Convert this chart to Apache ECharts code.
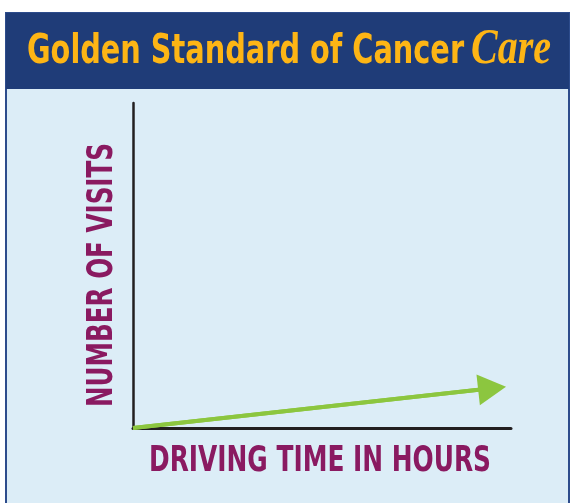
<!DOCTYPE html>
<html>
<head>
    <meta charset="utf-8">
    <script src="https://cdn.jsdelivr.net/npm/echarts@6/dist/echarts.min.js"></script>
    <style type="text/css">
        html, body { width: 100%; height: 100%; margin: 0; background: #fff; }
        #chart { width: 571px; height: 503px; }
    </style>
</head>
<body>
<div id="chart"></div>
<script type="text/javascript">
    // 数据：驾车时间（小时） vs 就诊次数（示意）
    var driveHours = [0, 0.95];
    var visits = [0, 0.122];
    var titleMain = 'Golden Standard of Cancer';
    var titleScript = 'Care';
    var xName = 'DRIVING TIME IN HOURS';
    var yName = 'NUMBER OF VISITS';

    var pts = driveHours.map(function (h, i) { return [h, visits[i]]; });
    // 没有窄体字体，用 DejaVu Sans Condensed 再横向压缩
    var narrow = '"DejaVu Sans Condensed", "DejaVu Sans", sans-serif';
    var purple = '#8a1a61';
    var gold = '#fdb515';

    var option = {
        animation: false,
        graphic: [
            // 外框 + 浅蓝面板
            { type: 'rect', shape: { x: 6, y: 13, width: 563, height: 495 },
              style: { fill: '#dcedf7', stroke: '#2d4c8c', lineWidth: 2 }, z: -10 },
            // 标题栏
            { type: 'rect', shape: { x: 6, y: 13, width: 563, height: 76 },
              style: { fill: '#1f3c78' }, z: -9 },
            { type: 'text', x: 27, y: 52, scaleX: 0.78,
              style: { text: titleMain, fill: gold, font: 'bold 41px ' + narrow,
                       textAlign: 'left', textVerticalAlign: 'middle' } },
            { type: 'text', x: 471, y: 50, scaleX: 0.8,
              style: { text: titleScript, fill: gold,
                       font: 'italic bold 50px "Liberation Serif", "DejaVu Serif", serif',
                       textAlign: 'left', textVerticalAlign: 'middle' } },
            // 坐标轴标题
            { type: 'text', x: 320, y: 462, scaleX: 0.79,
              style: { text: xName, fill: purple, font: 'bold 35px ' + narrow,
                       textAlign: 'center', textVerticalAlign: 'middle' } },
            { type: 'text', x: 103, y: 275, scaleX: 0.76, rotation: Math.PI / 2,
              style: { text: yName, fill: purple, font: 'bold 36px ' + narrow,
                       textAlign: 'center', textVerticalAlign: 'middle' } }
        ],
        grid: { left: 133, right: 60, top: 103, bottom: 75 },
        xAxis: {
            type: 'value', min: 0, max: 1,
            axisLine: { show: true, lineStyle: { color: '#231f20', width: 3 } },
            axisTick: { show: false },
            axisLabel: { show: false },
            splitLine: { show: false }
        },
        yAxis: {
            type: 'value', min: 0, max: 1,
            axisLine: { show: true, lineStyle: { color: '#231f20', width: 2.5 } },
            axisTick: { show: false },
            axisLabel: { show: false },
            splitLine: { show: false }
        },
        series: [{
            type: 'line',
            data: pts,
            showSymbol: false,
            lineStyle: { color: '#8cc63f', width: 4 },
            markLine: {
                silent: true,
                symbol: ['none', 'triangle'],
                symbolSize: [31, 28],
                label: { show: false },
                lineStyle: { color: '#8cc63f', width: 4, type: 'solid' },
                data: [[{ coord: pts[0] }, { coord: pts[pts.length - 1] }]]
            }
        }]
    };

    var myChart = echarts.init(document.getElementById('chart'));
    myChart.setOption(option);
</script>
</body>
</html>
